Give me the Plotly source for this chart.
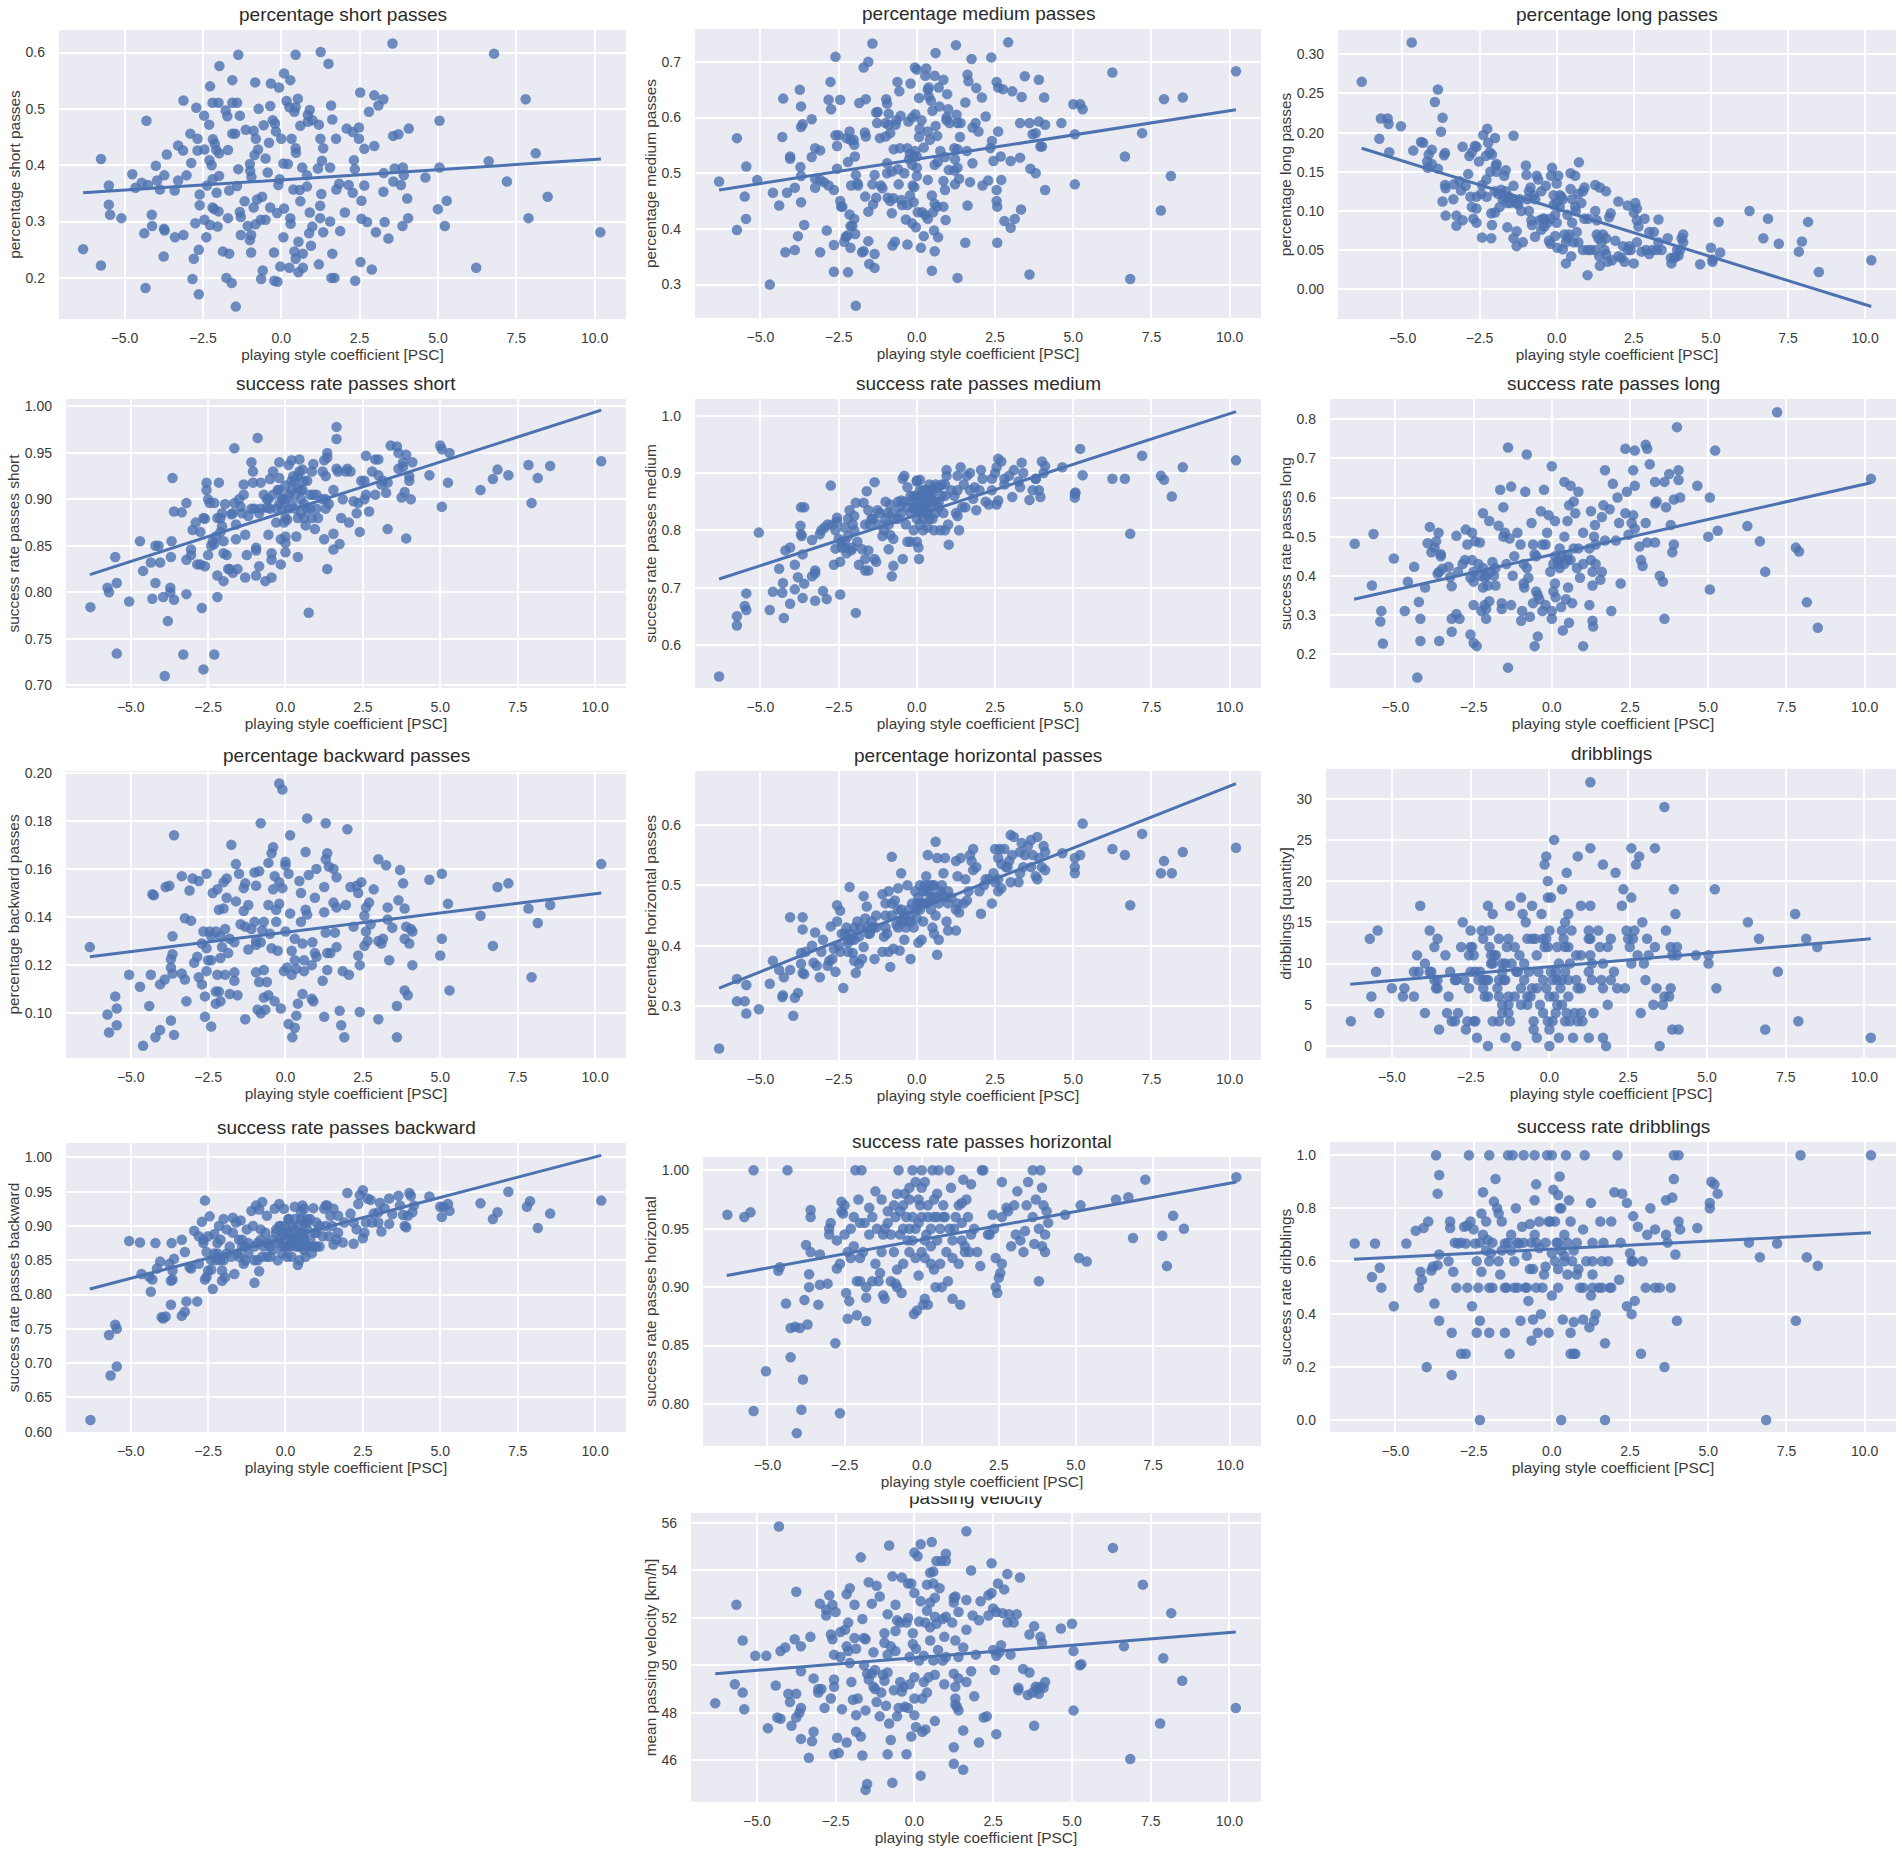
import plotly.graph_objects as go

short_pts = [(-6.32,.251),(-5.75,.411),(-5.75,.222),(-5.5,.364),(-5.5,.33),(-5.46,.312),(-5.1,.306),(-4.75,.384),(-4.65,.36),(-4.45,.369),(-4.37,.279),(-4.3,.479),(-4.33,.182),(-4.25,.365),(-4.13,.312),(-4.12,.292),(-4,.399),(-3.96,.373),(-3.87,.357),(-3.73,.382),(-3.74,.287),(-3.72,.284),(-3.75,.238),(-3.65,.419),(-3.4,.355),(-3.39,.272),(-3.29,.435),(-3.29,.373),(-3.12,.276),(-3.12,.515),(-3.13,.426),(-3.02,.382),(-2.9,.456),(-2.87,.404),(-2.79,.234),(-2.83,.198),(-2.74,.297),(-2.71,.502),(-2.67,.447),(-2.67,.426),(-2.63,.171),(-2.63,.25),(-2.6,.348),(-2.6,.329),(-2.46,.488),(-2.45,.428),(-2.45,.303),(-2.39,.272),(-2.37,.364),(-2.3,.472),(-2.29,.409),(-2.27,.54),(-2.27,.294),(-2.22,.4),(-2.19,.511),(-2,.511),(-2.19,.375),(-2.18,.446),(-2.12,.438),(-2.19,.325),(-2.14,.322),(-2.07,.427),(-2.03,.291),(-2.06,.351),(-2,.318),(-1.98,.381),(-1.97,.576),(-1.98,.421),(-1.86,.247),(-1.77,.497),(-1.72,.487),(-1.75,.2),(-1.7,.427),(-1.7,.306),(-1.66,.355),(-1.66,.243),(-1.58,.191),(-1.56,.551),(-1.56,.511),(-1.41,.511),(-1.56,.456),(-1.47,.456),(-1.45,.149),(-1.41,.363),(-1.37,.596),(-1.37,.393),(-1.32,.488),(-1.32,.317),(-1.29,.308),(-1.29,.276),(-1.17,.336),(-1.13,.463),(-1.07,.292),(-1,.402),(-.99,.39),(-1,.267),(-.96,.276),(-.96,.245),(-.95,.379),(-.88,.461),(-.88,.325),(-.83,.547),(-.82,.295),(-.81,.447),(-.85,.418),(-.74,.428),(-.77,.339),(-.72,.5),(-.65,.303),(-.64,.198),(-.59,.213),(-.61,.344),(-.56,.471),(-.5,.412),(-.5,.303),(-.43,.387),(-.39,.44),(-.35,.505),(-.35,.325),(-.33,.545),(-.27,.48),(-.23,.245),(-.22,.195),(-.12,.193),(-.2,.474),(-.17,.46),(-.07,.538),(-.13,.315),(-.09,.365),(-.05,.375),(0,.447),(-.03,.22),(.09,.563),(.07,.403),(.07,.272),(.09,.323),(.17,.514),(.21,.402),(.26,.218),(.29,.551),(.29,.306),(.3,.296),(.33,.447),(.26,.503),(.46,.596),(.42,.495),(.53,.518),(.46,.503),(.46,.43),(.47,.422),(.39,.357),(.42,.247),(.46,.234),(.55,.21),(.69,.218),(.69,.243),(.61,.47),(.67,.396),(.59,.356),(.61,.336),(.55,.264),(.95,.257),(.85,.477),(.91,.498),(.85,.489),(1,.48),(.91,.316),(.99,.291),(.89,.279),(.82,.382),(.82,.362),(1.2,.472),(1.2,.224),(1.26,.601),(1.25,.447),(1.34,.43),(1.3,.408),(1.17,.394),(1.28,.349),(1.24,.328),(1.24,.306),(1.34,.281),(1.51,.58),(1.59,.506),(1.63,.481),(1.56,.396),(1.7,.2),(1.6,.2),(1.63,.243),(1.56,.3),(1.75,.447),(1.76,.357),(1.85,.367),(1.88,.283),(2.03,.316),(2.09,.465),(2.15,.365),(2.28,.459),(2.28,.351),(2.32,.409),(2.35,.393),(2.36,.195),(2.48,.467),(2.48,.447),(2.52,.529),(2.53,.228),(2.56,.337),(2.56,.305),(2.65,.364),(2.65,.429),(2.74,.299),(2.8,.495),(2.89,.215),(2.97,.524),(2.97,.434),(3.02,.281),(3.1,.506),(3.26,.517),(3.27,.386),(3.26,.353),(3.3,.299),(3.42,.27),(3.55,.616),(3.57,.452),(3.62,.394),(3.58,.371),(3.74,.455),(3.82,.365),(3.87,.292),(3.88,.396),(3.91,.382),(4.02,.341),(4.05,.306),(4.07,.465),(4.6,.378),(5,.322),(5.05,.479),(5.05,.396),(5.22,.292),(5.28,.337),(6.22,.218),(6.62,.407),(6.79,.598),(7.2,.371),(7.8,.517),(7.89,.306),(8.12,.421),(8.5,.344),(10.18,.281)]

medium_pts = [(-6.32,.485),(-5.75,.563),(-5.75,.398),(-5.45,.512),(-5.5,.458),(-5.46,.418),(-5.1,.488),(-4.7,.3),(-4.6,.465),(-4.4,.442),(-4.3,.565),(-4.27,.634),(-4.2,.358),(-4.15,.465),(-4.05,.53),(-4.05,.526),(-3.9,.474),(-3.9,.362),(-3.8,.387),(-3.74,.65),(-3.7,.62),(-3.72,.511),(-3.7,.495),(-3.7,.448),(-3.7,.583),(-3.65,.588),(-3.6,.407),(-3.36,.597),(-3.36,.529),(-3.25,.545),(-3.25,.49),(-3.25,.474),(-3.09,.541),(-3.09,.488),(-3.09,.358),(-2.97,.484),(-2.88,.397),(-2.82,.478),(-2.82,.632),(-2.76,.664),(-2.74,.615),(-2.65,.47),(-2.65,.371),(-2.65,.323),(-2.6,.709),(-2.6,.568),(-2.5,.568),(-2.55,.549),(-2.55,.508),(-2.45,.632),(-2.45,.45),(-2.42,.44),(-2.38,.44),(-2.32,.377),(-2.27,.386),(-2.22,.388),(-2.25,.563),(-2.2,.52),(-2.2,.322),(-2.15,.575),(-2.12,.56),(-2.15,.426),(-2.12,.405),(-2.12,.366),(-2.1,.478),(-2.06,.405),(-2.02,.56),(-2,.551),(-2,.418),(-1.98,.53),(-1.97,.391),(-1.95,.497),(-1.95,.262),(-1.9,.482),(-1.88,.478),(-1.84,.626),(-1.75,.358),(-1.7,.69),(-1.7,.36),(-1.66,.573),(-1.65,.458),(-1.63,.633),(-1.63,.566),(-1.55,.7),(-1.55,.378),(-1.55,.431),(-1.52,.337),(-1.42,.48),(-1.42,.733),(-1.4,.444),(-1.35,.355),(-1.35,.33),(-1.35,.497),(-1.3,.456),(-1.3,.609),(-1.27,.59),(-1.25,.61),(-1.18,.563),(-1.15,.478),(-1.1,.473),(-1,.59),(-1,.566),(-.98,.633),(-.95,.625),(-.95,.5),(-.95,.518),(-.93,.456),(-.9,.607),(-.9,.587),(-.85,.45),(-.85,.572),(-.8,.428),(-.8,.503),(-.78,.37),(-.75,.455),(-.74,.543),(-.7,.377),(-.68,.587),(-.65,.595),(-.62,.664),(-.6,.507),(-.58,.48),(-.56,.647),(-.54,.545),(-.52,.603),(-.5,.452),(-.47,.443),(-.4,.5),(-.35,.417),(-.3,.443),(-.3,.545),(-.3,.372),(-.27,.593),(-.25,.525),(-.22,.46),(-.22,.535),(-.2,.661),(-.15,.6),(-.15,.41),(-.15,.515),(-.13,.478),(-.1,.448),(-.1,.53),(-.08,.475),(-.06,.69),(-.05,.606),(-.05,.54),(-.03,.403),(0,.686),(0,.53),(0,.51),(0,.495),(.03,.43),(.07,.565),(.07,.635),(.09,.58),(.13,.366),(.15,.595),(.17,.43),(.22,.546),(.22,.387),(.27,.675),(.27,.425),(.3,.688),(.35,.65),(.35,.575),(.35,.418),(.35,.488),(.38,.654),(.38,.638),(.42,.56),(.45,.63),(.48,.46),(.48,.325),(.5,.612),(.52,.43),(.55,.397),(.57,.515),(.57,.445),(.57,.36),(.57,.675),(.6,.716),(.6,.585),(.65,.44),(.65,.567),(.67,.52),(.68,.385),(.7,.654),(.72,.62),(.75,.54),(.85,.486),(.85,.44),(.85,.668),(.9,.529),(.9,.47),(.92,.416),(.95,.6),(.95,.595),(.97,.642),(1,.615),(1.02,.506),(1.05,.59),(1.2,.545),(1.2,.505),(1.22,.525),(1.22,.48),(1.25,.73),(1.27,.605),(1.3,.543),(1.3,.59),(1.3,.51),(1.3,.312),(1.35,.49),(1.38,.565),(1.4,.59),(1.55,.627),(1.55,.375),(1.6,.54),(1.62,.442),(1.62,.677),(1.65,.665),(1.7,.484),(1.75,.705),(1.78,.582),(1.78,.518),(1.88,.59),(1.9,.653),(1.97,.575),(2.08,.636),(2.1,.478),(2.2,.602),(2.28,.487),(2.35,.545),(2.38,.708),(2.4,.558),(2.45,.522),(2.55,.664),(2.57,.375),(2.55,.47),(2.55,.45),(2.57,.44),(2.6,.654),(2.6,.575),(2.68,.53),(2.7,.488),(2.75,.651),(2.8,.414),(2.92,.735),(3,.522),(3,.402),(3.05,.647),(3.13,.418),(3.3,.528),(3.3,.59),(3.33,.435),(3.35,.637),(3.45,.674),(3.6,.318),(3.6,.59),(3.63,.508),(3.7,.57),(3.8,.5),(3.8,.572),(3.9,.593),(3.9,.668),(3.95,.548),(4,.548),(4.1,.587),(4.07,.636),(4.1,.47),(4.62,.59),(5,.624),(5.05,.57),(5.05,.48),(5.22,.624),(5.3,.615),(6.25,.681),(6.65,.53),(6.82,.31),(7.2,.572),(7.8,.433),(7.9,.633),(8.12,.495),(8.5,.636),(10.2,.683)]

long_pts = [(-6.32,.265),(-5.75,.192),(-5.7,.218),(-5.48,.218),(-5.45,.211),(-5.43,.175),(-5.05,.208),(-4.7,.315),(-4.65,.177),(-4.4,.188),(-4.33,.187),(-4.2,.163),(-4.18,.155),(-4.15,.172),(-4.05,.16),(-4.05,.178),(-3.95,.239),(-3.85,.154),(-3.85,.255),(-3.75,.201),(-3.7,.219),(-3.7,.112),(-3.65,.171),(-3.62,.174),(-3.62,.133),(-3.6,.129),(-3.6,.094),(-3.35,.115),(-3.33,.134),(-3.25,.094),(-3.25,.081),(-3.15,.138),(-3.1,.126),(-3.05,.088),(-3.05,.182),(-2.95,.132),(-2.87,.147),(-2.83,.17),(-2.8,.118),(-2.75,.175),(-2.75,.105),(-2.7,.09),(-2.65,.183),(-2.6,.182),(-2.6,.103),(-2.6,.085),(-2.6,.118),(-2.52,.163),(-2.45,.122),(-2.42,.133),(-2.42,.066),(-2.38,.197),(-2.3,.17),(-2.28,.14),(-2.27,.118),(-2.25,.205),(-2.22,.187),(-2.17,.175),(-2.15,.15),(-2.12,.097),(-2.12,.065),(-2.1,.172),(-2.1,.082),(-2,.125),(-2,.098),(-2,.193),(-1.97,.158),(-1.95,.16),(-1.95,.15),(-1.85,.105),(-1.8,.127),(-1.75,.115),(-1.7,.145),(-1.65,.152),(-1.65,.125),(-1.6,.079),(-1.55,.118),(-1.5,.11),(-1.4,.115),(-1.4,.132),(-1.4,.065),(-1.4,.196),(-1.3,.055),(-1.3,.074),(-1.25,.108),(-1.15,.1),(-1.1,.06),(-1,.158),(-.98,.146),(-.95,.115),(-.9,.1),(-.85,.13),(-.82,.088),(-.8,.082),(-.75,.12),(-.7,.067),(-.65,.145),(-.6,.14),(-.55,.088),(-.5,.125),(-.5,.076),(-.45,.09),(-.4,.08),(-.35,.132),(-.3,.085),(-.25,.062),(-.2,.058),(-.18,.145),(-.15,.155),(-.1,.108),(-.1,.12),(-.05,.095),(-.05,.068),(0,.135),(0,.085),(.02,.053),(.05,.145),(.1,.105),(.15,.118),(.2,.051),(.25,.07),(.3,.033),(.35,.095),(.35,.065),(.45,.128),(.45,.148),(.47,.042),(.5,.085),(.55,.06),(.6,.145),(.62,.1),(.65,.073),(.7,.122),(.72,.162),(.8,.11),(.85,.125),(.85,.05),(.9,.13),(1,.018),(1.02,.09),(1.25,.133),(1.25,.1),(1.25,.05),(1.3,.088),(1.35,.065),(1.38,.042),(1.4,.03),(1.4,.13),(1.5,.07),(1.6,.045),(1.6,.065),(1.6,.125),(1.65,.035),(1.7,.092),(1.75,.097),(1.8,.037),(1.9,.062),(2,.042),(2,.112),(2.15,.055),(2.2,.035),(2.3,.107),(2.35,.055),(2.4,.05),(2.5,.033),(2.5,.098),(2.55,.11),(2.6,.103),(2.6,.06),(2.6,.088),(2.65,.08),(2.75,.048),(2.85,.09),(3,.073),(3,.045),(3.15,.073),(3.25,.05),(3.3,.06),(3.3,.089),(3.6,.065),(3.7,.04),(3.72,.033),(3.85,.041),(3.9,.05),(3.95,.043),(4.05,.065),(4.1,.07),(4.1,.06),(4.65,.032),(5,.053),(5.05,.038),(5.05,.035),(5.25,.086),(5.3,.047),(6.25,.1),(6.7,.065),(6.85,.09),(7.2,.058),(7.85,.048),(7.95,.061),(8.15,.086),(8.5,.022),(10.2,.037),(-1.9,.122),(-1.7,.118),(-1.6,.11),(-1.3,.11),(-1.2,.115),(-.9,.125),(-.7,.115),(-.4,.09),(-.2,.09),(0,.11),(.1,.12),(.2,.115),(.3,.06),(.4,.07),(.5,.115),(.6,.105),(.7,.06),(.9,.09),(1,.05),(1.1,.05),(1.3,.07),(1.45,.06),(1.55,.05),(2.1,.04),(2.3,.05),(2.9,.05),(3.1,.05),(3.4,.05),(3.8,.04),(4,.05)]

succ_short_pts = [(-6.3,.784),(-5.75,.805),(-5.7,.8),(-5.5,.838),(-5.45,.81),(-5.45,.734),(-5.05,.79),(-4.7,.855),(-4.6,.823),(-4.35,.832),(-4.3,.793),(-4.2,.81),(-4.2,.85),(-4.1,.85),(-4.05,.832),(-3.95,.795),(-3.9,.71),(-3.8,.769),(-3.72,.805),(-3.72,.8),(-3.7,.838),(-3.68,.855),(-3.65,.923),(-3.6,.887),(-3.6,.792),(-3.35,.886),(-3.3,.733),(-3.2,.835),(-3.2,.798),(-3.2,.896),(-3.05,.84),(-3.05,.846),(-3,.867),(-2.9,.875),(-2.85,.83),(-2.75,.83),(-2.75,.865),(-2.7,.783),(-2.65,.717),(-2.65,.88),(-2.6,.828),(-2.6,.879),(-2.55,.91),(-2.55,.918),(-2.5,.9),(-2.5,.84),(-2.45,.896),(-2.4,.85),(-2.35,.855),(-2.3,.896),(-2.3,.733),(-2.3,.852),(-2.25,.86),(-2.2,.88),(-2.2,.795),(-2.2,.818),(-2.15,.918),(-2.1,.865),(-2.05,.871),(-2.05,.885),(-2,.842),(-2,.855),(-2,.812),(-1.95,.895),(-1.9,.84),(-1.85,.825),(-1.8,.825),(-1.7,.821),(-1.75,.884),(-1.65,.955),(-1.65,.896),(-1.6,.857),(-1.6,.873),(-1.55,.825),(-1.5,.9),(-1.45,.892),(-1.35,.905),(-1.35,.916),(-1.3,.862),(-1.3,.816),(-1.25,.84),(-1.2,.882),(-1.1,.94),(-1.05,.93),(-1.05,.918),(-1,.89),(-.95,.845),(-.95,.848),(-.95,.818),(-.9,.966),(-.85,.828),(-.85,.885),(-.8,.918),(-.7,.905),(-.65,.812),(-.6,.891),(-.55,.862),(-.55,.9),(-.5,.922),(-.45,.816),(-.45,.835),(-.45,.842),(-.4,.93),(-.3,.875),(-.25,.91),(-.2,.94),(-.2,.923),(-.2,.895),(-.15,.857),(-.15,.83),(-.1,.9),(-.05,.875),(0,.915),(0,.86),(0,.853),(0,.843),(0,.9),(.05,.878),(.1,.905),(.1,.937),(.2,.942),(.2,.92),(.25,.925),(.3,.89),(.35,.86),(.4,.838),(.4,.912),(.45,.943),(.45,.93),(.5,.885),(.55,.932),(.55,.91),(.6,.895),(.65,.872),(.7,.92),(.75,.778),(.8,.905),(.85,.88),(.85,.93),(.9,.938),(.95,.868),(1,.905),(1.05,.88),(1.2,.93),(1.25,.857),(1.25,.942),(1.3,.9),(1.3,.925),(1.35,.825),(1.35,.945),(1.35,.95),(1.4,.895),(1.55,.846),(1.55,.863),(1.55,.91),(1.65,.933),(1.65,.965),(1.65,.978),(1.7,.93),(1.75,.852),(1.8,.88),(1.85,.9),(1.95,.93),(2,.933),(2.05,.875),(2.1,.93),(2.2,.898),(2.3,.885),(2.35,.896),(2.4,.865),(2.45,.92),(2.55,.9),(2.55,.92),(2.6,.947),(2.6,.905),(2.7,.887),(2.8,.93),(2.9,.905),(2.9,.943),(3,.943),(3,.926),(3.1,.916),(3.15,.92),(3.25,.907),(3.3,.918),(3.3,.868),(3.4,.958),(3.6,.957),(3.65,.95),(3.65,.933),(3.75,.902),(3.8,.935),(3.8,.94),(3.85,.908),(3.9,.948),(3.9,.858),(4,.92),(4,.925),(4.05,.9),(4.1,.94),(4.65,.926),(5,.958),(5.05,.892),(5.05,.954),(5.25,.918),(5.3,.95),(6.3,.91),(6.7,.922),(6.85,.932),(7.2,.926),(7.85,.937),(7.95,.896),(8.15,.923),(8.55,.936),(10.2,.941),(-.8,.89),(-.6,.9),(-.5,.89),(-.4,.905),(-.3,.89),(-.1,.89),(0,.88),(.1,.89),(.2,.91),(.3,.905),(.4,.88),(.5,.9),(.6,.88),(.7,.89),(.8,.89),(.9,.905),(1,.89),(1.2,.9),(1.3,.89),(-1.1,.89),(-1.4,.885),(-1.7,.885),(-2.1,.88),(.3,.92),(.4,.925),(.6,.92),(.2,.895),(.5,.91),(-.2,.91),(-.1,.9)]

succ_medium_pts = [(-6.32,.545),(-5.75,.65),(-5.75,.634),(-5.45,.69),(-5.5,.668),(-5.45,.661),(-5.05,.796),(-4.7,.661),(-4.6,.693),(-4.4,.733),(-4.3,.691),(-4.28,.708),(-4.25,.647),(-4.2,.765),(-4.05,.77),(-4.05,.672),(-3.9,.74),(-3.9,.697),(-3.8,.718),(-3.7,.84),(-3.72,.808),(-3.7,.793),(-3.68,.79),(-3.65,.758),(-3.65,.682),(-3.6,.84),(-3.6,.707),(-3.35,.783),(-3.35,.72),(-3.25,.725),(-3.25,.73),(-3.25,.677),(-3.1,.793),(-3.05,.8),(-3,.694),(-2.95,.805),(-2.88,.68),(-2.85,.81),(-2.75,.878),(-2.7,.81),(-2.65,.74),(-2.6,.768),(-2.6,.8),(-2.55,.822),(-2.55,.815),(-2.5,.785),(-2.45,.745),(-2.45,.688),(-2.4,.78),(-2.3,.77),(-2.3,.805),(-2.25,.76),(-2.2,.82),(-2.15,.835),(-2.1,.765),(-2.05,.77),(-2.05,.81),(-2,.8),(-2,.825),(-1.95,.848),(-1.95,.656),(-1.9,.78),(-1.85,.74),(-1.75,.767),(-1.7,.848),(-1.65,.73),(-1.65,.81),(-1.65,.75),(-1.6,.868),(-1.55,.73),(-1.55,.765),(-1.55,.835),(-1.45,.82),(-1.4,.82),(-1.35,.884),(-1.35,.75),(-1.3,.745),(-1.25,.835),(-1.2,.81),(-1.1,.79),(-1.05,.8),(-1,.85),(-.95,.83),(-.9,.81),(-.9,.767),(-.85,.845),(-.85,.792),(-.8,.72),(-.75,.738),(-.75,.785),(-.7,.82),(-.6,.85),(-.55,.84),(-.5,.852),(-.5,.83),(-.45,.75),(-.45,.89),(-.4,.895),(-.35,.81),(-.3,.875),(-.3,.78),(-.2,.78),(-.15,.85),(-.1,.86),(-.1,.8),(-.05,.835),(0,.78),(0,.887),(0,.885),(.05,.77),(.07,.75),(.1,.888),(.1,.84),(.15,.86),(.2,.8),(.3,.83),(.35,.805),(.4,.88),(.45,.855),(.5,.865),(.55,.8),(.6,.83),(.65,.875),(.7,.875),(.75,.8),(.85,.83),(.9,.88),(.9,.8),(.95,.905),(.95,.895),(1,.81),(1.02,.775),(1.2,.86),(1.25,.83),(1.3,.895),(1.3,.825),(1.35,.8),(1.4,.91),(1.45,.84),(1.55,.84),(1.6,.895),(1.7,.9),(1.8,.855),(1.85,.875),(1.9,.835),(2.05,.905),(2.1,.89),(2.2,.85),(2.3,.845),(2.4,.87),(2.5,.9),(2.55,.845),(2.55,.91),(2.6,.852),(2.6,.925),(2.7,.92),(2.8,.88),(2.95,.895),(3.05,.858),(3.1,.905),(3.25,.885),(3.3,.875),(3.35,.918),(3.6,.853),(3.7,.87),(3.8,.89),(3.9,.87),(3.95,.858),(4,.92),(4.05,.9),(4.1,.912),(4.65,.91),(5.05,.857),(5.05,.864),(5.07,.866),(5.22,.942),(5.3,.896),(6.25,.89),(6.65,.89),(6.82,.794),(7.2,.93),(7.8,.895),(7.9,.888),(8.15,.859),(8.5,.91),(10.2,.922),(0,.85),(.1,.87),(.2,.85),(.3,.87),(.4,.84),(.5,.82),(.6,.85),(.2,.82),(.1,.83),(.4,.86),(.3,.85),(.5,.87),(.7,.85),(-.2,.86),(-.1,.84),(0,.82),(.8,.86),(.8,.88),(-.3,.84),(-1,.82),(-.8,.83),(-.6,.82),(-1.2,.83),(-.4,.85),(-.2,.83),(0,.86),(.1,.81),(.2,.86),(.3,.84),(.4,.82),(.5,.85),(.6,.88),(.7,.84),(.9,.86),(1.1,.87),(1.3,.87),(1.5,.88),(1.7,.87),(2,.87),(2.4,.89),(2.8,.89),(3.4,.9),(3.8,.89),(-2.3,.78),(-2.4,.77),(-2.2,.79),(-1.5,.81),(.2,.87),(.4,.87),(.15,.84),(.35,.83)]

succ_long_pts = [(-6.3,.482),(-5.7,.507),(-5.75,.375),(-5.45,.31),(-5.48,.283),(-5.4,.227),(-5.05,.444),(-4.7,.31),(-4.6,.385),(-4.4,.423),(-4.3,.14),(-4.25,.333),(-4.2,.29),(-4.2,.233),(-4.05,.37),(-3.97,.483),(-3.9,.525),(-3.85,.46),(-3.75,.472),(-3.7,.488),(-3.65,.405),(-3.62,.51),(-3.6,.233),(-3.6,.41),(-3.55,.455),(-3.55,.45),(-3.5,.418),(-3.3,.423),(-3.25,.397),(-3.2,.373),(-3.2,.29),(-3.2,.257),(-3.05,.502),(-3.05,.302),(-3,.41),(-2.95,.29),(-2.85,.43),(-2.78,.44),(-2.75,.518),(-2.7,.48),(-2.6,.25),(-2.6,.395),(-2.55,.51),(-2.55,.44),(-2.5,.228),(-2.5,.385),(-2.5,.41),(-2.5,.325),(-2.45,.488),(-2.4,.22),(-2.35,.43),(-2.3,.485),(-2.25,.31),(-2.2,.56),(-2.15,.325),(-2.15,.395),(-2.1,.315),(-2.1,.29),(-2.05,.375),(-2,.335),(-2,.54),(-1.95,.41),(-1.9,.435),(-1.85,.4),(-1.8,.375),(-1.7,.528),(-1.65,.62),(-1.6,.315),(-1.6,.33),(-1.55,.575),(-1.55,.5),(-1.5,.51),(-1.45,.43),(-1.4,.728),(-1.4,.165),(-1.35,.495),(-1.3,.325),(-1.3,.628),(-1.25,.4),(-1.2,.45),(-1.1,.51),(-1,.48),(-.98,.285),(-.95,.31),(-.9,.38),(-.9,.43),(-.88,.37),(-.85,.615),(-.8,.71),(-.75,.395),(-.7,.295),(-.65,.535),(-.6,.48),(-.6,.33),(-.55,.455),(-.55,.22),(-.5,.36),(-.45,.35),(-.45,.245),(-.4,.34),(-.35,.565),(-.3,.31),(-.25,.62),(-.2,.48),(-.2,.325),(-.15,.51),(-.1,.555),(-.05,.41),(0,.68),(0,.31),(0,.29),(.05,.36),(.1,.54),(.12,.345),(.1,.38),(.2,.44),(.25,.47),(.3,.32),(.35,.26),(.4,.64),(.45,.34),(.5,.54),(.5,.44),(.52,.37),(.55,.28),(.55,.58),(.6,.63),(.65,.33),(.7,.59),(.75,.56),(.8,.42),(.85,.47),(.85,.615),(.9,.395),(1,.22),(1,.51),(1,.43),(1.2,.325),(1.25,.565),(1.25,.44),(1.3,.285),(1.3,.41),(1.3,.375),(1.32,.27),(1.35,.5),(1.38,.53),(1.4,.43),(1.55,.39),(1.6,.55),(1.6,.41),(1.65,.58),(1.7,.67),(1.7,.49),(1.85,.57),(1.9,.31),(1.95,.635),(2.05,.49),(2.1,.6),(2.15,.535),(2.2,.38),(2.35,.56),(2.35,.725),(2.4,.615),(2.45,.505),(2.55,.535),(2.6,.67),(2.65,.63),(2.6,.555),(2.65,.72),(2.65,.52),(2.8,.475),(2.85,.44),(2.9,.425),(3,.535),(3,.735),(3.05,.725),(3.05,.485),(3.13,.685),(3.3,.485),(3.3,.64),(3.3,.585),(3.35,.59),(3.45,.4),(3.55,.385),(3.6,.29),(3.6,.64),(3.65,.575),(3.75,.66),(3.8,.53),(3.85,.46),(3.9,.48),(3.9,.595),(4,.78),(4.05,.645),(4.05,.67),(4.1,.6),(4.65,.63),(5,.5),(5.05,.365),(5.05,.6),(5.22,.72),(5.3,.515),(6.25,.527),(6.65,.488),(6.82,.41),(7.2,.818),(7.8,.472),(7.9,.462),(8.15,.332),(8.5,.267),(10.2,.648),(.1,.45),(.2,.43),(.3,.45),(.4,.43),(.5,.45),(.6,.44),(.25,.42),(.05,.43),(-2.1,.4),(-2.2,.42),(-2.3,.4),(-2.2,.37),(-1.8,.42),(-.8,.42),(-.5,.45),(-.3,.48),(.4,.5),(.7,.47),(1.2,.47),(1.4,.48)]

backward_pts = [(-6.32,.1275),(-5.75,.0995),(-5.7,.092),(-5.5,.107),(-5.45,.102),(-5.45,.095),(-5.05,.116),(-4.7,.111),(-4.6,.0865),(-4.4,.103),(-4.35,.116),(-4.3,.1495),(-4.25,.149),(-4.2,.09),(-4.05,.112),(-4.05,.093),(-3.9,.114),(-3.87,.1525),(-3.75,.153),(-3.7,.097),(-3.7,.1225),(-3.7,.119),(-3.65,.1165),(-3.65,.1245),(-3.65,.132),(-3.6,.174),(-3.6,.091),(-3.35,.157),(-3.35,.1165),(-3.25,.114),(-3.25,.1395),(-3.2,.105),(-3.1,.151),(-3.05,.1385),(-3,.156),(-2.95,.121),(-2.85,.1235),(-2.8,.155),(-2.8,.115),(-2.7,.129),(-2.7,.112),(-2.65,.134),(-2.6,.107),(-2.6,.0985),(-2.55,.158),(-2.55,.127),(-2.55,.1175),(-2.5,.122),(-2.45,.134),(-2.4,.122),(-2.4,.132),(-2.4,.0945),(-2.35,.15),(-2.25,.134),(-2.25,.109),(-2.25,.104),(-2.2,.116),(-2.2,.1515),(-2.15,.143),(-2.15,.109),(-2.1,.132),(-2.1,.105),(-2.1,.123),(-2.05,.1275),(-2,.1545),(-2,.1435),(-1.95,.135),(-1.95,.116),(-1.9,.156),(-1.9,.148),(-1.85,.125),(-1.8,.131),(-1.8,.108),(-1.75,.17),(-1.65,.1295),(-1.65,.1135),(-1.65,.117),(-1.6,.1465),(-1.6,.162),(-1.55,.1075),(-1.5,.158),(-1.45,.137),(-1.35,.152),(-1.35,.1425),(-1.3,.136),(-1.3,.154),(-1.3,.0975),(-1.2,.1265),(-1.2,.145),(-1.1,.135),(-1,.138),(-1,.1585),(-.95,.117),(-.95,.13),(-.95,.1285),(-.95,.153),(-.9,.1015),(-.85,.159),(-.85,.113),(-.8,.179),(-.8,.1295),(-.8,.1),(-.75,.1345),(-.7,.138),(-.7,.1065),(-.7,.118),(-.65,.1015),(-.6,.113),(-.55,.1625),(-.55,.1075),(-.55,.145),(-.5,.133),(-.45,.127),(-.45,.1665),(-.4,.1515),(-.4,.169),(-.35,.105),(-.35,.157),(-.3,.143),(-.3,.138),(-.25,.126),(-.2,.1955),(-.2,.1455),(-.2,.1545),(-.15,.102),(-.1,.193),(-.1,.152),(-.05,.1175),(0,.163),(0,.1615),(0,.134),(.05,.119),(.1,.0955),(.1,.158),(.15,.174),(.15,.1415),(.2,.116),(.2,.126),(.22,.09),(.3,.131),(.3,.122),(.3,.094),(.35,.1185),(.35,.099),(.4,.104),(.45,.155),(.5,.15),(.5,.138),(.55,.108),(.55,.129),(.6,.122),(.6,.1175),(.65,.167),(.65,.143),(.7,.181),(.7,.141),(.75,.1575),(.85,.12),(.85,.106),(.87,.1295),(.9,.105),(.95,.148),(.95,.125),(1,.16),(1,.1235),(1.2,.1135),(1.25,.0985),(1.25,.1525),(1.25,.142),(1.3,.179),(1.3,.1335),(1.3,.164),(1.35,.125),(1.35,.1665),(1.35,.118),(1.4,.161),(1.45,.125),(1.55,.16),(1.55,.146),(1.6,.1335),(1.65,.144),(1.65,.1565),(1.65,.1275),(1.75,.101),(1.8,.095),(1.85,.1175),(1.9,.09),(1.95,.145),(2,.1765),(2.05,.116),(2.1,.1525),(2.2,.136),(2.3,.153),(2.35,.15),(2.35,.124),(2.4,.12),(2.4,.1005),(2.45,.1545),(2.55,.128),(2.55,.1405),(2.6,.144),(2.6,.134),(2.65,.13),(2.7,.146),(2.75,.137),(2.85,.1515),(3,.164),(3,.13),(3,.0975),(3.1,.129),(3.15,.131),(3.25,.1615),(3.3,.139),(3.3,.144),(3.35,.122),(3.45,.1355),(3.6,.103),(3.6,.09),(3.65,.147),(3.7,.1595),(3.8,.154),(3.85,.131),(3.85,.1435),(3.85,.1095),(3.9,.136),(3.95,.1075),(4,.129),(4.05,.135),(4.1,.134),(4.1,.12),(4.65,.1555),(5,.124),(5.05,.158),(5.05,.131),(5.25,.1455),(5.3,.1095),(6.3,.1405),(6.7,.128),(6.85,.1525),(7.2,.154),(7.85,.1435),(7.95,.115),(8.15,.1375),(8.55,.145),(10.2,.162)]

horizontal_pts = [(-6.32,.23),(-5.75,.345),(-5.75,.308),(-5.5,.308),(-5.45,.335),(-5.45,.288),(-5.05,.295),(-4.7,.337),(-4.6,.375),(-4.4,.36),(-4.3,.315),(-4.28,.318),(-4.25,.348),(-4.05,.447),(-4.05,.36),(-3.95,.284),(-3.9,.314),(-3.8,.322),(-3.7,.388),(-3.7,.37),(-3.65,.447),(-3.65,.427),(-3.65,.355),(-3.6,.353),(-3.55,.39),(-3.35,.4),(-3.3,.372),(-3.25,.422),(-3.2,.367),(-3.1,.348),(-3.05,.39),(-3,.41),(-2.85,.367),(-2.8,.375),(-2.75,.432),(-2.7,.378),(-2.65,.395),(-2.6,.357),(-2.55,.467),(-2.55,.44),(-2.5,.4),(-2.45,.39),(-2.45,.458),(-2.35,.33),(-2.3,.42),(-2.25,.43),(-2.2,.405),(-2.15,.497),(-2.1,.41),(-2.05,.388),(-2,.43),(-2,.375),(-1.95,.355),(-1.9,.44),(-1.85,.37),(-1.85,.415),(-1.75,.378),(-1.7,.398),(-1.7,.482),(-1.65,.445),(-1.6,.465),(-1.55,.42),(-1.45,.44),(-1.4,.43),(-1.35,.378),(-1.3,.45),(-1.1,.39),(-1.1,.485),(-1.05,.415),(-1,.47),(-.95,.42),(-.9,.39),(-.9,.49),(-.85,.365),(-.8,.547),(-.8,.45),(-.75,.395),(-.7,.475),(-.65,.435),(-.6,.495),(-.55,.392),(-.5,.52),(-.5,.46),(-.45,.44),(-.4,.41),(-.35,.43),(-.3,.5),(-.25,.46),(-.2,.378),(-.2,.44),(-.15,.47),(-.1,.43),(-.05,.49),(0,.445),(.05,.48),(.05,.405),(.1,.47),(.15,.41),(.2,.44),(.25,.5),(.3,.515),(.3,.47),(.35,.55),(.4,.49),(.45,.46),(.5,.43),(.55,.5),(.55,.42),(.6,.572),(.6,.45),(.65,.385),(.65,.545),(.7,.41),(.75,.49),(.85,.52),(.9,.48),(.9,.545),(.95,.44),(1,.425),(1,.47),(1.25,.425),(1.25,.54),(1.25,.46),(1.3,.515),(1.35,.455),(1.4,.545),(1.55,.51),(1.6,.475),(1.65,.49),(1.7,.55),(1.75,.54),(1.8,.56),(1.8,.525),(1.9,.53),(2,.49),(2.05,.453),(2.15,.5),(2.3,.51),(2.4,.47),(2.45,.52),(2.5,.56),(2.5,.505),(2.6,.545),(2.6,.49),(2.65,.56),(2.7,.535),(2.7,.495),(2.8,.56),(2.85,.53),(2.95,.54),(3,.583),(3,.505),(3.05,.55),(3.1,.58),(3.25,.505),(3.3,.555),(3.3,.52),(3.35,.57),(3.45,.55),(3.55,.565),(3.65,.53),(3.65,.575),(3.8,.515),(3.85,.58),(3.85,.51),(3.9,.545),(4,.53),(4.05,.565),(4.1,.525),(4.1,.555),(4.65,.553),(5.05,.53),(5.05,.52),(5.05,.545),(5.22,.55),(5.3,.602),(6.25,.56),(6.65,.55),(6.82,.467),(7.2,.585),(7.8,.52),(7.9,.54),(8.15,.52),(8.5,.555),(10.2,.562),(-2.2,.41),(-2.1,.42),(-1.5,.42),(-1.45,.43),(-1,.43),(-.5,.44),(-.2,.45),(0,.46),(.2,.47),(.3,.49),(.4,.475),(.5,.48),(.6,.48),(.8,.485),(1,.49),(-2.4,.42),(-2.2,.39),(-2,.41),(-1.8,.43),(-1.6,.43),(-1.3,.43),(-1,.45),(-.8,.47),(-.6,.46),(-.4,.45),(-.3,.44),(0,.47),(.1,.46),(.4,.5),(.7,.47),(.8,.5),(1.1,.48),(1.3,.47),(1.5,.47),(2.2,.51),(2.6,.51),(2.9,.53),(3.4,.53),(3.7,.55),(-.6,.43),(.1,.5),(.5,.5),(.2,.49)]

dribblings_pts = [(-6.3,3),(-5.7,13),(-5.65,6),(-5.45,14),(-5.5,9),(-5.4,4),(-5,7),(-4.65,6),(-4.6,7),(-4.3,6),(-4.3,9),(-4.2,11),(-4.15,9),(-4.1,17),(-3.95,10),(-3.95,4),(-3.8,14),(-3.8,9),(-3.75,9),(-3.65,8),(-3.65,12),(-3.6,7),(-3.55,8),(-3.55,7),(-3.5,2),(-3.55,13),(-3.3,11),(-3.25,4),(-3.2,6),(-3.15,9),(-3.1,3),(-3,8),(-3,3),(-2.95,8),(-2.9,4),(-2.8,12),(-2.75,15),(-2.7,8),(-2.65,2),(-2.6,3),(-2.55,7),(-2.55,11),(-2.5,14),(-2.5,12),(-2.5,9),(-2.45,12),(-2.4,11),(-2.4,3),(-2.35,3),(-2.35,9),(-2.3,1),(-2.25,8),(-2.2,9),(-2.15,14),(-2.1,13),(-2.1,7),(-2.1,8),(-2.05,6),(-2,8),(-1.95,8),(-1.95,6),(-1.9,12),(-1.85,10),(-1.85,11),(-1.8,3),(-1.8,10),(-1.75,11),(-1.95,17),(-1.7,11),(-1.95,0),(-1.65,7),(-1.9,14),(-1.8,16),(-1.5,9),(-1.6,8),(-1.6,3),(-1.45,8),(-1.6,13),(-1.6,6),(-1.5,5),(-1.4,8),(-1.5,4),(-1.5,10),(-1.4,10),(-1.4,1),(-1.3,4),(-1.3,6),(-1.35,12),(-1.3,13),(-1.3,5),(-1.25,3),(-1.25,17),(-1.2,10),(-1.1,12),(-1.05,9),(-1.1,6),(-1.05,0),(-1,9),(-.95,11),(-.9,7),(-.9,5),(-.9,18),(-.85,16),(-.8,10),(-.8,8),(-.75,15),(-.7,13),(-.7,6),(-.7,5),(-.65,9),(-.6,6),(-.55,17),(-.55,13),(-.55,7),(-.5,2),(-.5,3),(-.45,13),(-.4,11),(-.4,7),(-.4,1),(-.35,9),(-.3,5),(-.25,16),(-.2,13),(-.2,8),(-.2,4),(-.15,22),(-.15,12),(-.1,23),(-.1,13),(-.1,7),(-.05,20),(-.05,18),(-.05,12),(-.05,3),(0,14),(0,6),(0,2),(0,0),(.05,18),(.05,9),(.1,8),(.1,3),(.15,25),(.15,6),(.2,9),(.2,4),(.25,12),(.25,8),(.25,5),(.3,1),(.3,10),(.35,7),(.4,19),(.4,14),(.4,8),(.4,5),(.45,13),(.5,15),(.5,12),(.5,9),(.5,3),(.55,21),(.55,4),(.6,16),(.6,12),(.6,8),(.6,6),(.65,3),(.65,10),(.7,14),(.75,1),(.8,4),(.85,11),(.85,8),(.9,23),(.9,7),(.9,3),(1,17),(1,7),(1,4),(1,11),(1.05,3),(1.25,13),(1.25,1),(1.25,9),(1.25,14),(1.3,32),(1.3,24),(1.3,17),(1.3,11),(1.3,13),(1.35,10),(1.35,8),(1.4,4),(1.55,14),(1.6,12),(1.65,8),(1.7,22),(1.7,10),(1.7,7),(1.7,1),(1.85,12),(1.8,0),(1.85,5),(1.95,13),(1.95,8),(2.05,9),(2.1,21),(2.15,7),(2.3,17),(2.35,19),(2.4,7),(2.45,14),(2.5,13),(2.55,12),(2.6,10),(2.6,18),(2.6,24),(2.65,13),(2.7,14),(2.75,22),(2.8,11),(2.85,23),(2.9,4),(2.95,15),(3,10),(3.05,8),(3.1,13),(3.15,11),(3.3,5),(3.35,24),(3.35,12),(3.4,7),(3.5,0),(3.6,5),(3.65,29),(3.65,6),(3.7,14),(3.8,6),(3.85,12),(3.85,7),(3.9,11),(3.9,2),(3.95,19),(4,16),(4.05,12),(4.05,11),(4.1,2),(4.65,11),(5.05,11),(5.05,10),(5.25,19),(5.3,7),(6.3,15),(6.65,13),(6.85,2),(7.25,9),(7.8,16),(7.9,3),(8.15,13),(8.5,12),(10.2,1)]

succ_backward_pts = [(-6.3,.617),(-5.7,.741),(-5.65,.682),(-5.5,.756),(-5.45,.75),(-5.45,.695),(-5.05,.878),(-4.7,.876),(-4.65,.83),(-4.4,.826),(-4.35,.804),(-4.3,.822),(-4.2,.875),(-4.15,.838),(-4.05,.848),(-4,.767),(-3.95,.765),(-3.87,.768),(-3.75,.845),(-3.7,.82),(-3.7,.785),(-3.68,.875),(-3.65,.822),(-3.65,.835),(-3.6,.852),(-3.35,.88),(-3.35,.769),(-3.25,.775),(-3.25,.862),(-3.2,.79),(-3.1,.84),(-3.05,.838),(-2.95,.893),(-2.85,.79),(-2.8,.885),(-2.8,.845),(-2.7,.906),(-2.65,.88),(-2.65,.875),(-2.6,.937),(-2.6,.822),(-2.55,.862),(-2.55,.826),(-2.5,.835),(-2.5,.885),(-2.45,.914),(-2.4,.836),(-2.35,.808),(-2.3,.888),(-2.25,.85),(-2.2,.86),(-2.2,.875),(-2.15,.9),(-2.1,.88),(-2.05,.835),(-2.05,.82),(-2,.91),(-2,.85),(-1.95,.825),(-1.9,.895),(-1.8,.87),(-1.75,.855),(-1.7,.912),(-1.65,.83),(-1.6,.905),(-1.55,.86),(-1.5,.855),(-1.45,.908),(-1.4,.88),(-1.35,.845),(-1.3,.87),(-1.25,.895),(-1.2,.86),(-1.1,.922),(-1.05,.9),(-1,.85),(-1,.817),(-.95,.93),(-.9,.875),(-.85,.924),(-.85,.834),(-.8,.895),(-.75,.855),(-.75,.935),(-.7,.87),(-.65,.89),(-.6,.855),(-.6,.915),(-.5,.87),(-.45,.88),(-.35,.925),(-.3,.895),(-.25,.85),(-.2,.932),(-.2,.875),(-.15,.9),(-.1,.87),(-.05,.925),(0,.89),(0,.87),(.05,.855),(.1,.91),(.15,.87),(.2,.855),(.3,.928),(.3,.895),(.35,.87),(.4,.843),(.45,.85),(.5,.91),(.55,.93),(.55,.88),(.6,.89),(.65,.855),(.7,.905),(.75,.87),(.85,.86),(.9,.926),(.95,.89),(1,.905),(1,.87),(1.2,.885),(1.25,.925),(1.3,.93),(1.35,.93),(1.4,.885),(1.45,.915),(1.55,.873),(1.55,.925),(1.65,.88),(1.7,.915),(1.85,.876),(1.9,.905),(2,.948),(2.1,.918),(2.2,.874),(2.3,.895),(2.35,.932),(2.4,.945),(2.5,.952),(2.5,.882),(2.55,.89),(2.6,.905),(2.65,.94),(2.75,.938),(2.85,.918),(3,.92),(3,.905),(3.05,.934),(3.1,.892),(3.2,.926),(3.35,.903),(3.35,.94),(3.45,.917),(3.65,.944),(3.7,.93),(3.8,.916),(3.85,.9),(3.9,.898),(3.95,.915),(4,.948),(4.05,.944),(4.1,.92),(4.15,.93),(4.65,.943),(5,.928),(5.05,.913),(5.1,.928),(5.25,.932),(5.3,.922),(6.3,.933),(6.7,.91),(6.85,.92),(7.2,.95),(7.8,.928),(7.9,.936),(8.15,.897),(8.55,.918),(10.2,.937),(0,.88),(.1,.89),(.2,.9),(.3,.885),(.4,.9),(.5,.89),(.5,.87),(.6,.905),(.7,.895),(.8,.88),(.2,.875),(-.2,.88),(.4,.87),(.1,.87),(-.1,.89),(.6,.865),(-1.5,.88),(-1.4,.87),(-1.2,.875),(-1,.87),(-.8,.88),(-.6,.875),(-.4,.865),(-.3,.89),(-.2,.9),(-.1,.86),(0,.9),(.1,.91),(.2,.88),(.3,.91),(.4,.88),(.5,.92),(.6,.88),(.7,.87),(.8,.91),(.9,.87),(1,.89),(1.1,.9),(1.3,.9),(1.5,.9),(1.7,.89),(-2.3,.86),(-2.4,.85),(-2.1,.85),(-1.9,.86),(-1.7,.89),(-1.3,.85),(-.9,.85),(-.5,.855),(2.8,.905),(2.2,.905),(.7,.91),(.6,.925),(1.1,.87)]

succ_horizontal_pts = [(-6.3,.962),(-5.75,.96),(-5.55,.964),(-5.45,1),(-5.45,.794),(-5.05,.828),(-4.65,.914),(-4.6,.917),(-4.4,.886),(-4.35,1),(-4.25,.865),(-4.25,.84),(-4.1,.866),(-4.05,.775),(-3.95,.865),(-3.9,.795),(-3.85,.821),(-3.8,.889),(-3.75,.936),(-3.7,.868),(-3.65,.911),(-3.65,.9),(-3.6,.966),(-3.6,.96),(-3.6,.93),(-3.35,.885),(-3.3,.902),(-3.3,.928),(-3.05,.903),(-3,.945),(-3,.95),(-2.95,.955),(-2.8,.852),(-2.75,.94),(-2.75,.916),(-2.65,.92),(-2.65,.792),(-2.6,.973),(-2.55,.963),(-2.5,.97),(-2.45,.895),(-2.4,.873),(-2.35,.888),(-2.3,.95),(-2.2,.935),(-2.15,1),(-2.1,.876),(-2.05,.975),(-2,.905),(-2,.925),(-1.95,1),(-1.85,.955),(-1.8,.891),(-1.8,.871),(-1.7,.968),(-1.6,.905),(-1.5,.982),(-1.45,.95),(-1.35,.912),(-1.3,.975),(-1.25,.893),(-1.25,.945),(-1.2,.89),(-1.1,.955),(-1,.905),(-.9,.97),(-.85,.96),(-.85,.903),(-.8,.9),(-.8,.98),(-.75,1),(-.7,.945),(-.65,.895),(-.6,.95),(-.55,.98),(-.45,.94),(-.4,.93),(-.4,.985),(-.3,1),(-.25,.877),(-.2,.99),(-.15,.88),(-.1,.955),(-.1,.91),(-.05,.97),(0,1),(0,.93),(.05,.885),(.1,.99),(.1,.89),(.15,.945),(.2,.96),(.2,.885),(.3,.92),(.35,1),(.4,.915),(.45,.9),(.5,.98),(.55,1),(.6,.95),(.65,.9),(.7,.97),(.75,.96),(.85,.905),(.9,1),(.95,.985),(1,.89),(1.05,.95),(1.2,.92),(1.25,.885),(1.3,.972),(1.3,.94),(1.35,.992),(1.4,.93),(1.45,.975),(1.55,.93),(1.6,.988),(1.7,.95),(1.9,.918),(1.95,1),(2,1),(2.15,.945),(2.3,.962),(2.35,.95),(2.4,.9),(2.45,.895),(2.5,.908),(2.55,.912),(2.6,.99),(2.6,.92),(2.75,.968),(2.9,.935),(3,.97),(3.05,.945),(3.1,.982),(3.3,.93),(3.35,.948),(3.45,.99),(3.6,1),(3.65,.937),(3.7,.975),(3.8,.905),(3.85,1),(3.9,.985),(3.95,.97),(4,.945),(4.05,.965),(4.1,.955),(4.65,.962),(5.05,1),(5.1,.925),(5.15,.97),(5.35,.922),(6.3,.975),(6.7,.977),(6.85,.942),(7.25,.992),(7.8,.944),(7.95,.918),(8.15,.961),(8.5,.95),(10.2,.994),(0,.96),(.1,.94),(-.3,.96),(-.2,.95),(.3,.95),(.5,.96),(-.6,.97),(.4,.975),(-.4,.95),(1,.94),(-2.6,.965),(-2.5,.945),(-2.4,.93),(-2.3,.925),(-2.2,.96),(-2.1,.905),(-2,.955),(-1.9,.93),(-1.8,.9),(-1.7,.945),(-1.6,.96),(-1.5,.92),(-1.4,.905),(-1.3,.93),(-1.2,.95),(-1.1,.965),(-1,.945),(-.9,.93),(-.8,.915),(-.7,.965),(-.6,.92),(-.5,.96),(-.4,.975),(-.3,.94),(-.2,.925),(-.1,.975),(0,.985),(.1,.925),(.2,.97),(.3,.935),(.4,.96),(.5,.94),(.6,.92),(.7,.96),(.8,.93),(.9,.95),(1,.925),(1.1,.96),(1.2,.97),(1.3,.955),(1.4,.935),(1.5,.96),(1.6,.945),(1.8,.93),(2.2,.945),(2.4,.925),(2.6,.96),(2.8,.965),(3.2,.94),(3.4,.97),(3.6,.96),(3.8,.95),(3.9,.935),(4,.93)]

succ_dribblings_pts = [(-6.3,.667),(-5.75,.54),(-5.65,.667),(-5.5,.575),(-5.45,.5),(-5.05,.43),(-4.65,.667),(-4.35,.715),(-4.25,.5),(-4.2,.56),(-4.15,.53),(-4.1,.725),(-3.95,.75),(-4,.2),(-3.85,.565),(-3.8,.58),(-3.75,.44),(-3.7,1),(-3.65,.855),(-3.65,.585),(-3.6,.625),(-3.6,.375),(-3.6,.925),(-3.25,.725),(-3.25,.75),(-3.2,.33),(-3.2,.17),(-3.15,.56),(-3.05,.5),(-3,.667),(-2.9,.25),(-2.75,.667),(-2.75,.25),(-2.7,.735),(-2.65,1),(-2.55,.43),(-2.5,.72),(-2.45,.667),(-2.4,.33),(-2.35,.5),(-2.3,.375),(-2.3,0),(-2.25,.78),(-2.25,.56),(-2.2,.86),(-2.1,.75),(-2.05,.68),(-2,.33),(-2,1),(-1.95,.63),(-1.9,.5),(-1.85,.825),(-1.8,.91),(-1.75,.8),(-1.7,.6),(-1.65,.55),(-1.6,.75),(-1.5,.33),(-1.5,.667),(-1.45,.5),(-1.4,1),(-1.4,.67),(-1.35,.25),(-1.3,.7),(-1.25,1),(-1.2,.6),(-1.15,.8),(-1.1,.5),(-1.05,.667),(-1,.375),(-.95,.73),(-.9,1),(-.85,.5),(-.8,.62),(-.75,.45),(-.7,.74),(-.65,.3),(-.65,.67),(-.6,.38),(-.55,1),(-.55,.7),(-.55,.83),(-.5,.89),(-.5,.5),(-.45,.33),(-.4,.65),(-.35,.4),(-.25,.55),(-.2,.58),(-.15,1),(-.1,.33),(-.05,.75),(0,1),(0,.63),(0,.47),(.05,.87),(.1,.75),(.15,.67),(.2,.5),(.2,.85),(.25,.8),(.25,.92),(.3,0),(.35,.38),(.4,.6),(.45,1),(.5,.55),(.55,.83),(.6,.33),(.6,.25),(.65,.6),(.7,.25),(.7,.37),(.75,.25),(.8,.67),(.85,.57),(.9,.5),(1,.72),(1,.38),(1.05,1),(1.2,.35),(1.25,.82),(1.25,.47),(1.3,.6),(1.3,.5),(1.3,.55),(1.35,.375),(1.4,.4),(1.55,.75),(1.6,.5),(1.65,.67),(1.7,.29),(1.7,0),(1.8,.6),(1.85,.5),(1.9,.75),(2,.86),(2.1,1),(2.15,.53),(2.25,.855),(2.4,.82),(2.4,.43),(2.55,.6),(2.55,.4),(2.6,.77),(2.65,.45),(2.75,.73),(2.85,.25),(2.9,.6),(3,.5),(3.05,.7),(3.15,.8),(3.3,.5),(3.3,.72),(3.45,.5),(3.6,.2),(3.65,.83),(3.65,.7),(3.8,.5),(3.85,.84),(3.9,1),(3.9,.91),(3.95,.625),(4.05,1),(4,.375),(4.05,.75),(4.1,.72),(4.65,.725),(5.05,.8),(5.05,.82),(5.1,.9),(5.2,.89),(5.3,.855),(6.3,.67),(6.65,.615),(6.85,0),(7.2,.667),(7.8,.375),(7.95,1),(8.15,.615),(8.5,.583),(10.2,1),(-3.3,.6),(-3.1,.67),(-2.9,.67),(-2.8,.73),(-2.7,.5),(-2.6,.75),(-2.4,.6),(-2.3,.67),(-2.2,.7),(-2.1,.64),(-2,.6),(-2,.5),(-1.9,.67),(-1.7,.78),(-1.6,.64),(-1.5,.5),(-1.3,.64),(-1.2,.5),(-1.1,.67),(-.9,.67),(-.8,.5),(-.7,.57),(-.6,.57),(-.5,.67),(-.4,.75),(-.3,.5),(-.2,.67),(-.1,.75),(.1,.6),(.2,.67),(.3,.64),(.4,.7),(.5,.67),(.6,.75),(.7,.64),(.8,.55),(1,.5),(1.1,.6),(1.3,.67),(1.5,.5),(1.6,.6),(1.9,.5),(2.2,.67),(2.5,.63),(2.6,.6),(3.7,.67),(.2,.57),(.3,.8),(.4,.62)]

velocity_pts = [(-6.32,48.4),(-5.7,49.2),(-5.65,52.55),(-5.45,48.85),(-5.45,51.05),(-5.4,48.15),(-5.05,50.4),(-4.7,50.4),(-4.65,47.35),(-4.4,49.15),(-4.35,47.8),(-4.3,55.85),(-4.25,47.75),(-4.25,50.6),(-4.1,50.75),(-4,48.8),(-3.9,47.45),(-3.95,48.45),(-3.8,51.1),(-3.75,48.8),(-3.75,47.8),(-3.75,53.1),(-3.65,48),(-3.6,48.2),(-3.6,46.9),(-3.6,49.75),(-3.6,50.8),(-3.35,46.1),(-3.3,51.2),(-3.25,46.8),(-3.2,47.2),(-3.2,49.45),(-3.05,49),(-3.05,48.85),(-3,52.6),(-2.95,49),(-2.85,48.2),(-2.8,52.1),(-2.8,52.35),(-2.7,52.95),(-2.65,51.3),(-2.65,48.6),(-2.6,51.1),(-2.6,52.55),(-2.55,50.45),(-2.55,46.25),(-2.55,49.4),(-2.55,49.1),(-2.5,52.25),(-2.45,46.95),(-2.4,46.3),(-2.35,51.4),(-2.35,50.35),(-2.3,48.15),(-2.2,51.5),(-2.15,50.8),(-2.15,46.75),(-2.15,53),(-2.1,51.8),(-2.1,50.6),(-2.05,50.1),(-2.05,53.25),(-2,49.3),(-1.95,48.55),(-1.9,51.15),(-1.9,52.55),(-1.85,47.2),(-1.85,47.9),(-1.85,50.7),(-1.8,48.6),(-1.7,47),(-1.6,50),(-1.5,45),(-1.5,49.65),(-1.65,46.2),(-1.7,54.55),(-1.65,51.95),(-1.6,51.15),(-1.55,44.75),(-1.55,48.1),(-1.55,51.1),(-1.45,49.4),(-1.45,53.5),(-1.35,49.65),(-1.35,52.6),(-1.3,50.55),(-1.3,49.1),(-1.25,49.8),(-1.25,49),(-1.2,48.45),(-1.2,53.35),(-1.1,52.9),(-1.1,47.85),(-1.05,48.85),(-1,49.6),(-.95,49.35),(-.95,51.35),(-.95,50.95),(-.9,48.3),(-.85,52.15),(-.85,46.25),(-.85,49.7),(-.85,50.45),(-.8,47.55),(-.8,55.05),(-.75,46.85),(-.75,50.8),(-.7,45.05),(-.7,53.75),(-.65,48.95),(-.6,50.6),(-.6,51.45),(-.6,52.55),(-.55,47.85),(-.55,51.9),(-.5,48.2),(-.45,49.3),(-.45,51.8),(-.4,53.7),(-.4,48.9),(-.35,49.1),(-.3,48.25),(-.25,46.25),(-.25,51.8),(-.2,53.45),(-.2,48.2),(-.2,52),(-.15,50.35),(-.15,49.2),(-.1,47),(-.1,53.45),(-.05,50.9),(-.05,51.35),(0,53.05),(0,49.5),(0,54.75),(0,48.6),(0,47.9),(.05,47.4),(.05,50.7),(.1,54.6),(.15,50.2),(.15,51.85),(.2,52.7),(.2,45.35),(.2,55.1),(.25,47.2),(.25,48.6),(.3,49.3),(.3,50.4),(.35,51.8),(.35,47.3),(.4,52.3),(.4,53.4),(.4,48.85),(.45,49.5),(.5,51.6),(.5,52.65),(.5,51.05),(.5,53.9),(.55,55.2),(.6,50.2),(.6,53.95),(.6,53.45),(.65,49.6),(.65,47.65),(.65,52.85),(.65,52.05),(.7,51.75),(.7,54.4),(.75,50.65),(.8,53.25),(.85,54.4),(.9,51.95),(.9,50.2),(.95,51.2),(.95,49.2),(1,54.4),(1,54.7),(1,50.35),(1,52.05),(1.2,51.8),(1.25,46.55),(1.25,49.65),(1.25,52.85),(1.25,52.65),(1.25,45.85),(1.3,51.05),(1.3,49.1),(1.3,48.6),(1.3,52.9),(1.3,48.35),(1.35,48.25),(1.4,48.1),(1.4,50.35),(1.4,52.25),(1.4,49.45),(1.55,45.6),(1.55,47.25),(1.55,50.75),(1.65,55.65),(1.65,51.5),(1.65,49.3),(1.65,52.75),(1.8,54),(1.8,49.75),(1.85,52.1),(1.9,48.7),(1.95,50.45),(2.05,51.9),(2.05,46.75),(2.1,52.7),(2.2,47.8),(2.3,47.85),(2.35,52.95),(2.35,52.1),(2.45,53.05),(2.45,54.3),(2.5,50.65),(2.5,52.4),(2.55,49.8),(2.6,47.1),(2.6,52.25),(2.6,50.4),(2.65,53.45),(2.7,50.55),(2.75,50.85),(2.8,52.2),(2.85,53.2),(2.95,53.85),(2.95,51.8),(3,52.15),(3.05,50.45),(3.15,51.8),(3.25,52.15),(3.3,49.05),(3.3,48.95),(3.35,53.7),(3.45,49.85),(3.6,48.75),(3.65,51.3),(3.65,49.7),(3.75,48.85),(3.8,47.45),(3.8,51.65),(3.85,49.1),(3.9,49),(3.95,48.8),(4,49.1),(4,51.2),(4.05,50.95),(4.1,49.05),(4.15,49.3),(4.65,51.55),(5,51.75),(5.05,48.1),(5.05,50.6),(5.25,50),(5.3,50.05),(6.3,54.95),(6.65,50.8),(6.85,46.05),(7.25,53.4),(7.8,47.55),(7.9,50.3),(8.15,52.2),(8.5,49.35),(10.2,48.2)]

titles = ["percentage short passes", "percentage medium passes", "percentage long passes",
          "success rate passes short", "success rate passes medium", "success rate passes long",
          "percentage backward passes", "percentage horizontal passes", "dribblings",
          "success rate passes backward", "success rate passes horizontal", "success rate dribblings",
          "passing velocity"]
ylabels = ["percentage short passes", "percentage medium passes", "percentage long passes",
           "success rate passes short", "success rate passes medium", "success rate passes long",
           "percentage backward passes", "percentage horizontal passes", "dribblings [quantity]",
           "success rate passes backward", "success rate passes horizontal", "success rate dribblings",
           "mean passing velocity [km/h]"]
xlabel = "playing style coefficient [PSC]"
all_points = [short_pts, medium_pts, long_pts, succ_short_pts, succ_medium_pts, succ_long_pts,
              backward_pts, horizontal_pts, dribblings_pts, succ_backward_pts,
              succ_horizontal_pts, succ_dribblings_pts, velocity_pts]
fit_x = [-6.32, 10.2]
fit_y = [(.351,.411),(.470,.614),(.180,-.022),(.819,.996),(.715,1.007),(.34,.638),
         (.1235,.150),(.33,.668),(7.5,13.0),(.808,1.003),(.91,.99),(.607,.707),(49.65,51.4)]
x_ticks = [-5, -2.5, 0, 2.5, 5, 7.5, 10]
y_ticks = [[.2,.3,.4,.5,.6],[.3,.4,.5,.6,.7],[0,.05,.1,.15,.2,.25,.3],
           [.7,.75,.8,.85,.9,.95,1],[.6,.7,.8,.9,1],[.2,.3,.4,.5,.6,.7,.8],
           [.1,.12,.14,.16,.18,.2],[.3,.4,.5,.6],[0,5,10,15,20,25,30],
           [.6,.65,.7,.75,.8,.85,.9,.95,1],[.8,.85,.9,.95,1],[0,.2,.4,.6,.8,1],[46,48,50,52,54,56]]
y_formats = [".1f",".1f",".2f",".2f",".1f",".1f",".2f",".1f","d",".2f",".2f",".1f","d"]
y_ranges = [(.127,.640),(.24,.759),(-.038,.331),(.697,1.008),(.525,1.029),(.113,.852),
            (.0814,.2007),(.211,.689),(-1.46,33.6),(.5995,1.021),(.764,1.0114),(-.045,1.05),(44.24,56.42)]
# axes frames in page pixels: left, right, top, bottom
frames = [(59,626,30,319),(695,1261,29,318),(1338,1896,30,319),
          (66,626,399,688),(695,1261,399,688),(1330,1896,399,688),
          (66,626,771,1058),(695,1261,771,1060),(1326,1896,769,1058),
          (66,626,1143,1432),(703,1261,1157,1446),(1330,1896,1142,1432),
          (691,1261,1513,1802)]

W, H = 1902, 1852
BLUE = "#4c72b0"
INK = "#3a3a3a"
FONT = "Liberation Sans, Arial, sans-serif"

fig = go.Figure()
layout = dict(
    width=W, height=H, margin=dict(l=0, r=0, t=0, b=0), autosize=False,
    paper_bgcolor="white", plot_bgcolor="#eaeaf2", showlegend=False,
    font=dict(family=FONT, size=14, color=INK), annotations=[],
)
for i, pts in enumerate(all_points):
    n = "" if i == 0 else str(i + 1)
    l, r, t, b = frames[i]
    xs = [p[0] for p in pts]
    ys = [p[1] for p in pts]
    fig.add_trace(go.Scatter(x=xs, y=ys, mode="markers", xaxis="x" + n, yaxis="y" + n,
                             marker=dict(color=BLUE, size=10.5, opacity=.8, line=dict(width=0))))
    fig.add_trace(go.Scatter(x=fit_x, y=list(fit_y[i]), mode="lines", xaxis="x" + n, yaxis="y" + n,
                             line=dict(color=BLUE, width=3)))
    layout["xaxis" + n] = dict(
        domain=[l / W, r / W], range=[-7.09, 11.0], anchor="y" + n, tickvals=x_ticks, automargin=False,
        tickformat=".1f", showgrid=True, gridcolor="white", gridwidth=1.6, zeroline=False,
        showline=False, ticks="", ticklabelstandoff=9, tickfont=dict(size=14, color=INK),
        title=dict(text=xlabel, standoff=4, font=dict(size=15.4, color=INK)),
    )
    layout["yaxis" + n] = dict(
        domain=[1 - b / H, 1 - t / H], range=list(y_ranges[i]), anchor="x" + n, tickvals=y_ticks[i],
        automargin=False, tickformat=y_formats[i], showgrid=True, gridcolor="white", gridwidth=1.6,
        zeroline=False, showline=False, ticks="", ticklabelstandoff=13, tickfont=dict(size=14, color=INK),
        title=dict(text=ylabels[i], standoff=1, font=dict(size=15.4, color=INK)),
    )
    layout["annotations"].append(dict(
        text=titles[i], xref="x" + n + " domain", yref="y" + n + " domain", x=.5, y=1,
        xanchor="center", yanchor="bottom", yshift=3, showarrow=False,
        font=dict(size=19, color="#2a2a2a", family=FONT),
    ))
# the reference's last title is cropped along its top edge
layout["annotations"].append(dict(
    text=" ", xref="paper", yref="paper", x=976 / W, y=1 - 1492.5 / H, xanchor="center", yanchor="middle",
    width=220, height=6, bgcolor="white", borderpad=0, showarrow=False, font=dict(size=1),
))
fig.update_layout(**layout)
fig.write_html("out.html", config={"displayModeBar": False},
               post_script="document.body.style.margin='0';")
